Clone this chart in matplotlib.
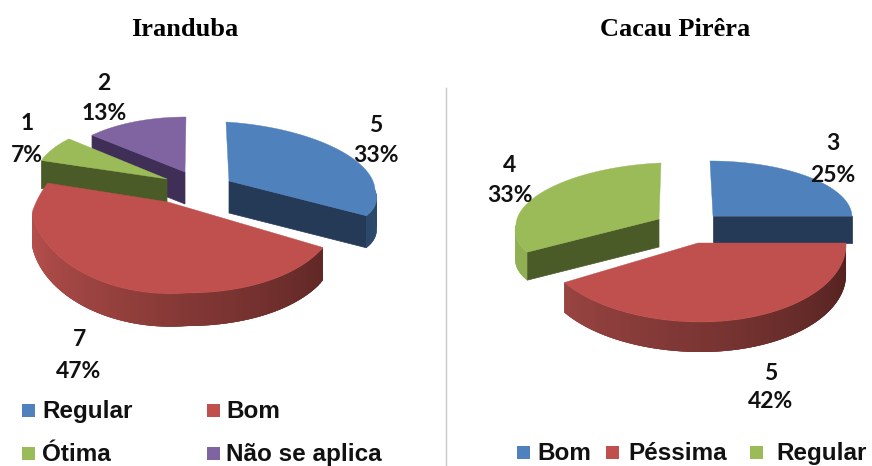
import numpy as np
import matplotlib
matplotlib.use("Agg")
import matplotlib.pyplot as plt
from matplotlib.colors import to_rgb

# ---- data ----
left_title = "Iranduba"
left_categories = ["Regular", "Bom", "Ótima", "Não se aplica"]
left_values = [5, 7, 1, 2]

right_title = "Cacau Pirêra"
right_categories = ["Bom", "Péssima", "Regular"]
right_values = [3, 5, 4]

# ---- styles ----
BLUE = dict(top="#4f81bd", face="#243a56", wall0="#2f5078", wall1="#2a4768")
RED = dict(top="#c0504d", face="#4f201e", wall0="#b8504d", wall1="#4f201e")
GREEN = dict(top="#9bbb59", face="#4b5b28", wall0="#93b254", wall1="#7d9a48")
PURPLE = dict(top="#8064a2", face="#3f2f57", wall0="#5d4878", wall1="#4a3a60")

# per-wedge projection of the tilted pie
LEFT_GEOM = [
    dict(style=BLUE, apex=(229, 181), rxr=146, rxl=146, ryt=59, ryb=54, el=0, er=9, shx=22, sht=-3, depth=32),
    dict(style=RED, apex=(168, 202), rxr=168, rxl=136, ryt=95, ryb=91, el=11, er=0, shx=19, sht=29, depth=33),
    dict(style=GREEN, apex=(167, 179), rxr=126, rxl=132, ryt=60, ryb=60, el=0, er=0, shx=0, sht=0, depth=28),
    dict(style=PURPLE, apex=(185, 172), rxr=126, rxl=126, ryt=55, ryb=55, el=0, er=0, shx=0, sht=1, depth=32),
]
LEFT_ORDER = [3, 2, 0, 1]

RIGHT_GEOM = [
    dict(style=BLUE, apex=(713, 216), rxr=139, rxl=139, ryt=55, ryb=55, el=0, er=0, shx=0, sht=-3, depth=27),
    dict(style=dict(RED, wall0="#a84c49"), apex=(698, 243), rxr=148, rxl=156, ryt=79, ryb=79, el=0, er=0, shx=3, sht=0, depth=30),
    dict(style=GREEN, apex=(659, 219), rxr=143, rxl=143, ryt=56, ryb=56, el=6, er=0, shx=-16, sht=2, depth=28),
]
RIGHT_ORDER = [0, 2, 1]


def project(g, deg):
    t = np.radians(np.asarray(deg, dtype=float))
    s, c = np.sin(t), np.cos(t)
    dx = np.where(s >= 0, g["rxr"], g["rxl"]) * s + g["shx"] * np.clip(-c, 0, None) + g["sht"] * np.clip(c, 0, None)
    dy = -np.where(c >= 0, g["ryt"], g["ryb"]) * c
    dy = dy + np.where(s >= 0, g["er"], g["el"]) * np.abs(s)
    return g["apex"][0] + dx, g["apex"][1] + dy


def mix(a, b, f):
    a, b = np.array(to_rgb(a)), np.array(to_rgb(b))
    return tuple(a + (b - a) * f)


def draw_wedge(ax, g, a0, a1):
    st, d = g["style"], g["depth"]
    ax0, ay0 = g["apex"]
    # visible cut faces
    for ang, visible in ((a0, np.sin(np.radians(a0)) < -1e-6), (a1, np.sin(np.radians(a1)) > 1e-6)):
        if visible:
            x, y = project(g, ang)
            ax.fill([ax0, x, x, ax0], [ay0, y, y + d, ay0 + d], color=st["face"], lw=0.5, zorder=g["z"])
    # outer wall: lower half only, shaded across its width
    lo, hi = max(a0, 90), min(a1, 270)
    if hi > lo:
        th = np.linspace(lo, hi, 90)
        xs, ys = project(g, th)
        for i in range(len(th) - 1):
            j = min(i + 3, len(th) - 1)
            f = (270 - th[i]) / 180
            col = mix(st["wall0"], st["wall1"], f)
            ax.fill(np.r_[xs[i:j + 1], xs[i:j + 1][::-1]],
                    np.r_[ys[i:j + 1], ys[i:j + 1][::-1] + d],
                    color=col, lw=0, zorder=g["z"])
    # top surface
    th = np.linspace(a0, a1, 120)
    xs, ys = project(g, th)
    ax.fill(np.r_[ax0, xs], np.r_[ay0, ys], color=st["top"], lw=0.3, zorder=g["z"])


def draw_pie(ax, values, geoms, order):
    cum = np.r_[0, np.cumsum(values)] * 360.0 / sum(values)
    for z, i in enumerate(order):
        g = dict(geoms[i], z=2 + z)
        draw_wedge(ax, g, cum[i], cum[i + 1])


def labels(ax, values, positions):
    total = sum(values)
    for v, (x, y1, y2) in zip(values, positions):
        ax.text(x, y1, f"{v}", **LABEL)
        ax.text(x, y2, f"{100 * v / total:.0f}%", **LABEL)


def legend(ax, cats, geoms, positions):
    for c, g, (sx, tx, y) in zip(cats, geoms, positions):
        col = g["style"]["top"]
        ax.fill([sx, sx + 13, sx + 13, sx], [y - 6.5, y - 6.5, y + 6.5, y + 6.5], color=col, lw=0, zorder=5)
        ax.text(tx, y + 8, c, **LEG)


LABEL = dict(family="Lato", fontweight="bold", fontsize=16.5, ha="center", va="center", color="#111111", zorder=10)
LEG = dict(family="Liberation Sans", fontweight="bold", fontsize=17.5, ha="left", va="baseline", color="#111111", zorder=10)
TITLE = dict(family="Liberation Serif", fontweight="bold", fontsize=19, ha="center", va="center", color="black")

fig = plt.figure(figsize=(8.72, 4.66), dpi=100)
ax = fig.add_axes([0, 0, 1, 1])
ax.set_xlim(0, 872)
ax.set_ylim(466, 0)
ax.axis("off")

ax.text(185, 29, left_title, **TITLE)
ax.text(675, 29, right_title, **TITLE)
ax.plot([446, 446], [88, 466], color="#c8c8c8", lw=1)

draw_pie(ax, left_values, LEFT_GEOM, LEFT_ORDER)
draw_pie(ax, right_values, RIGHT_GEOM, RIGHT_ORDER)

labels(ax, left_values, [(376, 125, 156), (79, 339, 372), (27, 123, 155), (104, 83, 113)])
labels(ax, right_values, [(833, 144, 175), (771, 373, 402), (510, 166, 195)])

legend(ax, left_categories, LEFT_GEOM, [(22, 42, 410), (207, 226, 410), (22, 42, 453), (207, 226, 453)])
legend(ax, right_categories, RIGHT_GEOM, [(517, 537, 452), (606, 628, 452), (750, 776, 452)])

fig.savefig("out.png", dpi=100)
